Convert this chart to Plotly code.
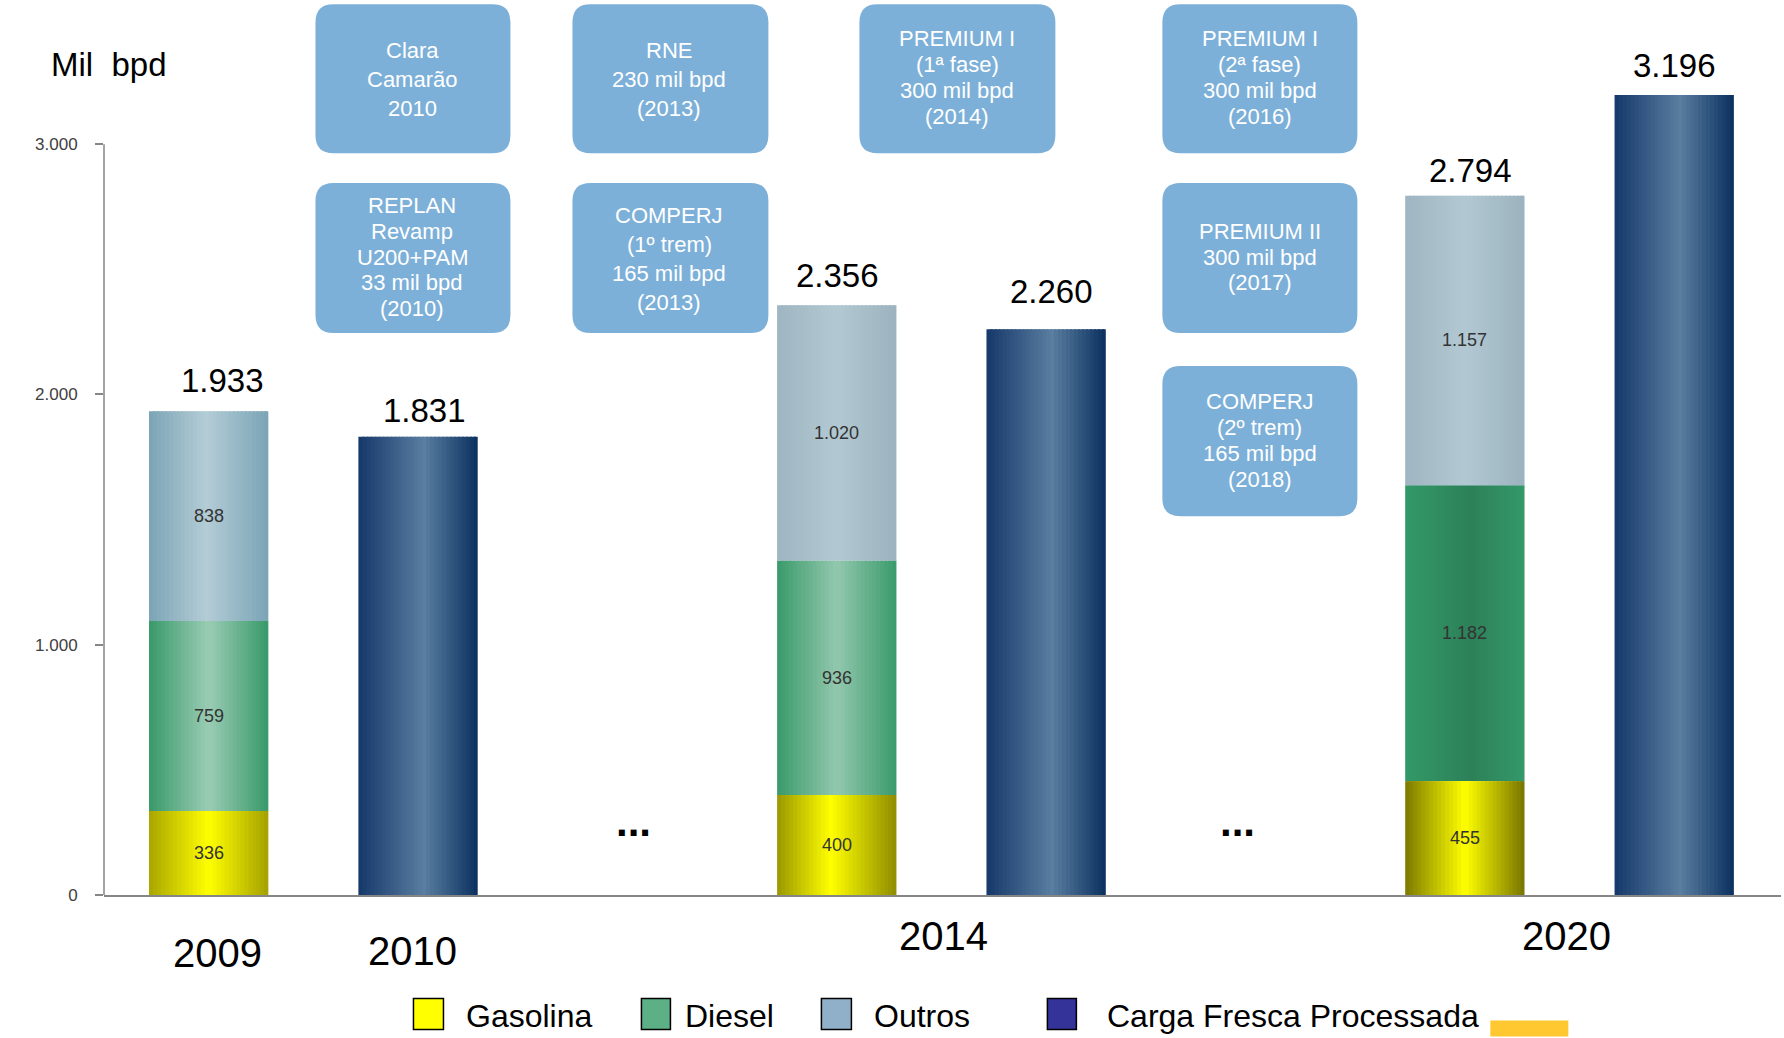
import plotly.graph_objects as go

# ---------------- data ----------------
stack_years = ["2009", "2014", "2020"]
gasolina = [336, 400, 455]
diesel = [759, 936, 1182]
outros = [838, 1020, 1157]
carga_years = ["2010", "2014", "2020"]
carga = [1831, 2260, 3196]
year_labels = ["2009", "2010", "2014", "2020"]
y_ticks = [0, 1000, 2000, 3000]
legend_names = ["Gasolina", "Diesel", "Outros", "Carga Fresca Processada"]
boxes_text = [
    ["Clara", "Camarão", "2010"],
    ["RNE", "230 mil bpd", "(2013)"],
    ["PREMIUM I", "(1ª fase)", "300 mil bpd", "(2014)"],
    ["PREMIUM I", "(2ª fase)", "300 mil bpd", "(2016)"],
    ["REPLAN", "Revamp", "U200+PAM", "33 mil bpd", "(2010)"],
    ["COMPERJ", "(1º trem)", "165 mil bpd", "(2013)"],
    ["PREMIUM II", "300 mil bpd", "(2017)"],
    ["COMPERJ", "(2º trem)", "165 mil bpd", "(2018)"],
]

# ---------------- layout constants ----------------
W, H = 1784, 1038
L, R, T, B = 103.5, 3.3, 19.3, 142.6
PW, PH = W - L - R, H - T - B
XR = [-0.5, 7.51]
YR = [0, 3500]
stack_pos = [0, 3, 6]
carga_pos = [1, 4, 7]
BW = 0.57
FONT = "Liberation Sans, Arial, sans-serif"


def xp(X):
    return (X - L) / PW


def yp(Y):
    return (H - B - Y) / PH


def fmt(v):
    return f"{v:,}".replace(",", ".")


def h2r(h):
    h = h.lstrip("#")
    return [int(h[i:i + 2], 16) for i in (0, 2, 4)]


def interp(stops, t):
    for (p0, c0), (p1, c1) in zip(stops[:-1], stops[1:]):
        if p0 <= t <= p1:
            f = 0 if p1 == p0 else (t - p0) / (p1 - p0)
            a, b = h2r(c0), h2r(c1)
            return "rgb({},{},{})".format(*[round(a[k] + (b[k] - a[k]) * f) for k in range(3)])
    return "rgb({},{},{})".format(*h2r(stops[-1][1]))


grad_gas = [
    [(0, "#A9A500"), (0.5, "#FFFF00"), (1, "#A4A000")],
    [(0, "#9A9700"), (0.45, "#FFFF00"), (1, "#8F8C00")],
    [(0, "#7C7A00"), (0.5, "#FFFF00"), (1, "#777400")],
]
grad_die = [
    [(0, "#38996A"), (0.5, "#9BCCB4"), (1, "#38996A")],
    [(0, "#3A9A6B"), (0.5, "#93C8AE"), (1, "#3A9A6B")],
    [(0, "#339968"), (0.55, "#2D8059"), (1, "#34996A")],
]
grad_out = [
    [(0, "#7BA4B6"), (0.48, "#B4CCD6"), (1, "#7AA4B6")],
    [(0, "#9FB5C1"), (0.5, "#B2C9D3"), (1, "#9CB3BF")],
    [(0, "#9FB5C1"), (0.5, "#B2C9D3"), (1, "#9CB3BF")],
]
grad_carga = [(0, "#15386A"), (0.55, "#5A7EA0"), (1, "#0B305F")]

fig = go.Figure()
N = 30
dw = BW / N


def add_gradient(pos, vals, bases, grads):
    for i in range(N):
        t = (i + 0.5) / N
        cols = [interp(g, t) for g in grads]
        w = dw if i == N - 1 else dw * 1.6
        fig.add_trace(go.Bar(
            x=pos, y=vals, base=bases, width=[w] * len(pos),
            offset=[-BW / 2 + i * dw] * len(pos),
            marker=dict(color=cols, line=dict(width=0)),
            showlegend=False, hoverinfo="skip"))


base_g = [0] * 3
base_d = list(gasolina)
base_o = [g + d for g, d in zip(gasolina, diesel)]
totals = [g + d + o for g, d, o in zip(gasolina, diesel, outros)]

add_gradient(stack_pos, gasolina, base_g, grad_gas)
add_gradient(stack_pos, diesel, base_d, grad_die)
add_gradient(stack_pos, outros, base_o, grad_out)
add_gradient(carga_pos, carga, [0] * 3, [grad_carga] * 3)

ann = []


def A(**kw):
    d = dict(showarrow=False, xanchor="center", yanchor="middle")
    d.update(kw)
    ann.append(d)


# segment labels
for vals, bases in ((gasolina, base_g), (diesel, base_d), (outros, base_o)):
    for p, v, b in zip(stack_pos, vals, bases):
        A(x=p, y=b + v / 2, xref="x", yref="y", text=fmt(v),
          font=dict(family=FONT, size=18, color="#333333"))
# total labels
tot_shift = [(14, 31), (1, 30), (6, 25)]
for p, v, (dx, dy) in zip(stack_pos, totals, tot_shift):
    A(x=p, y=v, xref="x", yref="y", text=fmt(v), xshift=dx, yshift=dy,
      font=dict(family=FONT, size=33, color="#000000"))
carga_shift = [(6, 26), (5, 38), (0, 30)]
for p, v, (dx, dy) in zip(carga_pos, carga, carga_shift):
    A(x=p, y=v, xref="x", yref="y", text=fmt(v), xshift=dx, yshift=dy,
      font=dict(family=FONT, size=33, color="#000000"))

# year labels
year_xy = [(217, 953), (412, 951), (943, 936), (1566, 936)]
for t, (X, Y) in zip(year_labels, year_xy):
    A(x=xp(X), y=yp(Y), xref="paper", yref="paper", text=t,
      font=dict(family=FONT, size=40, color="#000000"))

# ellipses
for X in (633, 1237):
    A(x=xp(X), y=yp(822), xref="paper", yref="paper", text="<b>...</b>",
      font=dict(family=FONT, size=42, color="#000000"))

# unit label
A(x=xp(48), y=yp(65), xref="paper", yref="paper", xanchor="left", text="Mil  bpd",
  font=dict(family=FONT, size=33, color="#000000"))

# boxes
shapes = []
box_geom = [
    (315, 510, 4.6, 153.6, 362), (572, 768, 4.6, 153.6, 588), (859, 1055, 4.6, 153.6, 841),
    (1162, 1357, 4.6, 153.6, 1107), (315, 510, 183.2, 333.4, 362), (572, 768, 183.2, 333.4, 588),
    (1162, 1357, 183.2, 333.4, 1107), (1162, 1357, 366.4, 516.6, 1107),
]
line_y = [
    [45, 70, 96], [45, 70, 96], [34, 57, 80, 103], [34, 57, 80, 103],
    [181, 204, 227, 249, 271], [190, 215, 241, 266], [204, 227, 249], [353, 376, 399, 422],
]
rr = 18
for (X0, X1, Y0, Y1, cx), lines, ys in zip(box_geom, boxes_text, line_y):
    x0, x1, y0, y1 = xp(X0), xp(X1), yp(Y1), yp(Y0)
    rx, ry = rr / PW, rr / PH
    path = (f"M {x0+rx},{y1} L {x1-rx},{y1} Q {x1},{y1} {x1},{y1-ry} L {x1},{y0+ry} "
            f"Q {x1},{y0} {x1-rx},{y0} L {x0+rx},{y0} Q {x0},{y0} {x0},{y0+ry} "
            f"L {x0},{y1-ry} Q {x0},{y1} {x0+rx},{y1} Z")
    shapes.append(dict(type="path", path=path, xref="paper", yref="paper",
                       fillcolor="#7DB0D8", line=dict(width=0), layer="below"))
    for txt, ys_ in zip(lines, ys):
        A(x=xp(cx * 1.1378), y=yp(ys_ * 1.1378), xref="paper", yref="paper", text=txt,
          font=dict(family=FONT, size=22, color="#FFFFFF"))

# y axis line (0 to 3000)
shapes.append(dict(type="line", xref="paper", yref="y", x0=0, x1=0, y0=0, y1=y_ticks[-1],
                   line=dict(color="#868686", width=1.5)))

# legend
leg_sq = [(413, 443), (641, 670), (821, 851), (1047, 1076)]
leg_col = ["#FFFF00", "#5DAF86", "#8FB0C8", "#333399"]
leg_tx = [464, 683, 872, 1105]
for (X0, X1), c, tx, name in zip(leg_sq, leg_col, leg_tx, legend_names):
    shapes.append(dict(type="rect", xref="paper", yref="paper", x0=xp(X0), x1=xp(X1),
                       y0=yp(1030), y1=yp(999), fillcolor=c, line=dict(color="#000000", width=1.5)))
    A(x=xp(tx), y=yp(1016), xref="paper", yref="paper", xanchor="left", text=name,
      font=dict(family=FONT, size=32, color="#000000"))
shapes.append(dict(type="rect", xref="paper", yref="paper", x0=xp(1490), x1=xp(1568),
                   y0=yp(1037), y1=yp(1021), fillcolor="#FFC830", line=dict(width=0)))

fig.update_layout(
    width=W, height=H, margin=dict(l=L, r=R, t=T, b=B, autoexpand=False),
    paper_bgcolor="white", plot_bgcolor="white", barmode="overlay",
    showlegend=False, annotations=ann, shapes=shapes,
    xaxis=dict(range=XR, showgrid=False, zeroline=False, showticklabels=False, ticks="",
               showline=True, linecolor="#868686", linewidth=1.5, fixedrange=True),
    yaxis=dict(range=YR, showgrid=False, zeroline=False, showline=False,
               tickvals=y_ticks, ticktext=[fmt(v) for v in y_ticks], ticks="outside", ticklen=8,
               tickwidth=1.5, tickcolor="#868686", ticklabelstandoff=14,
               tickfont=dict(family=FONT, size=17, color="#404040"), fixedrange=True),
    font=dict(family=FONT),
)

fig.write_html("out.html", config={"displayModeBar": False},
               post_script="document.body.style.margin='0';document.body.style.overflow='hidden';")
